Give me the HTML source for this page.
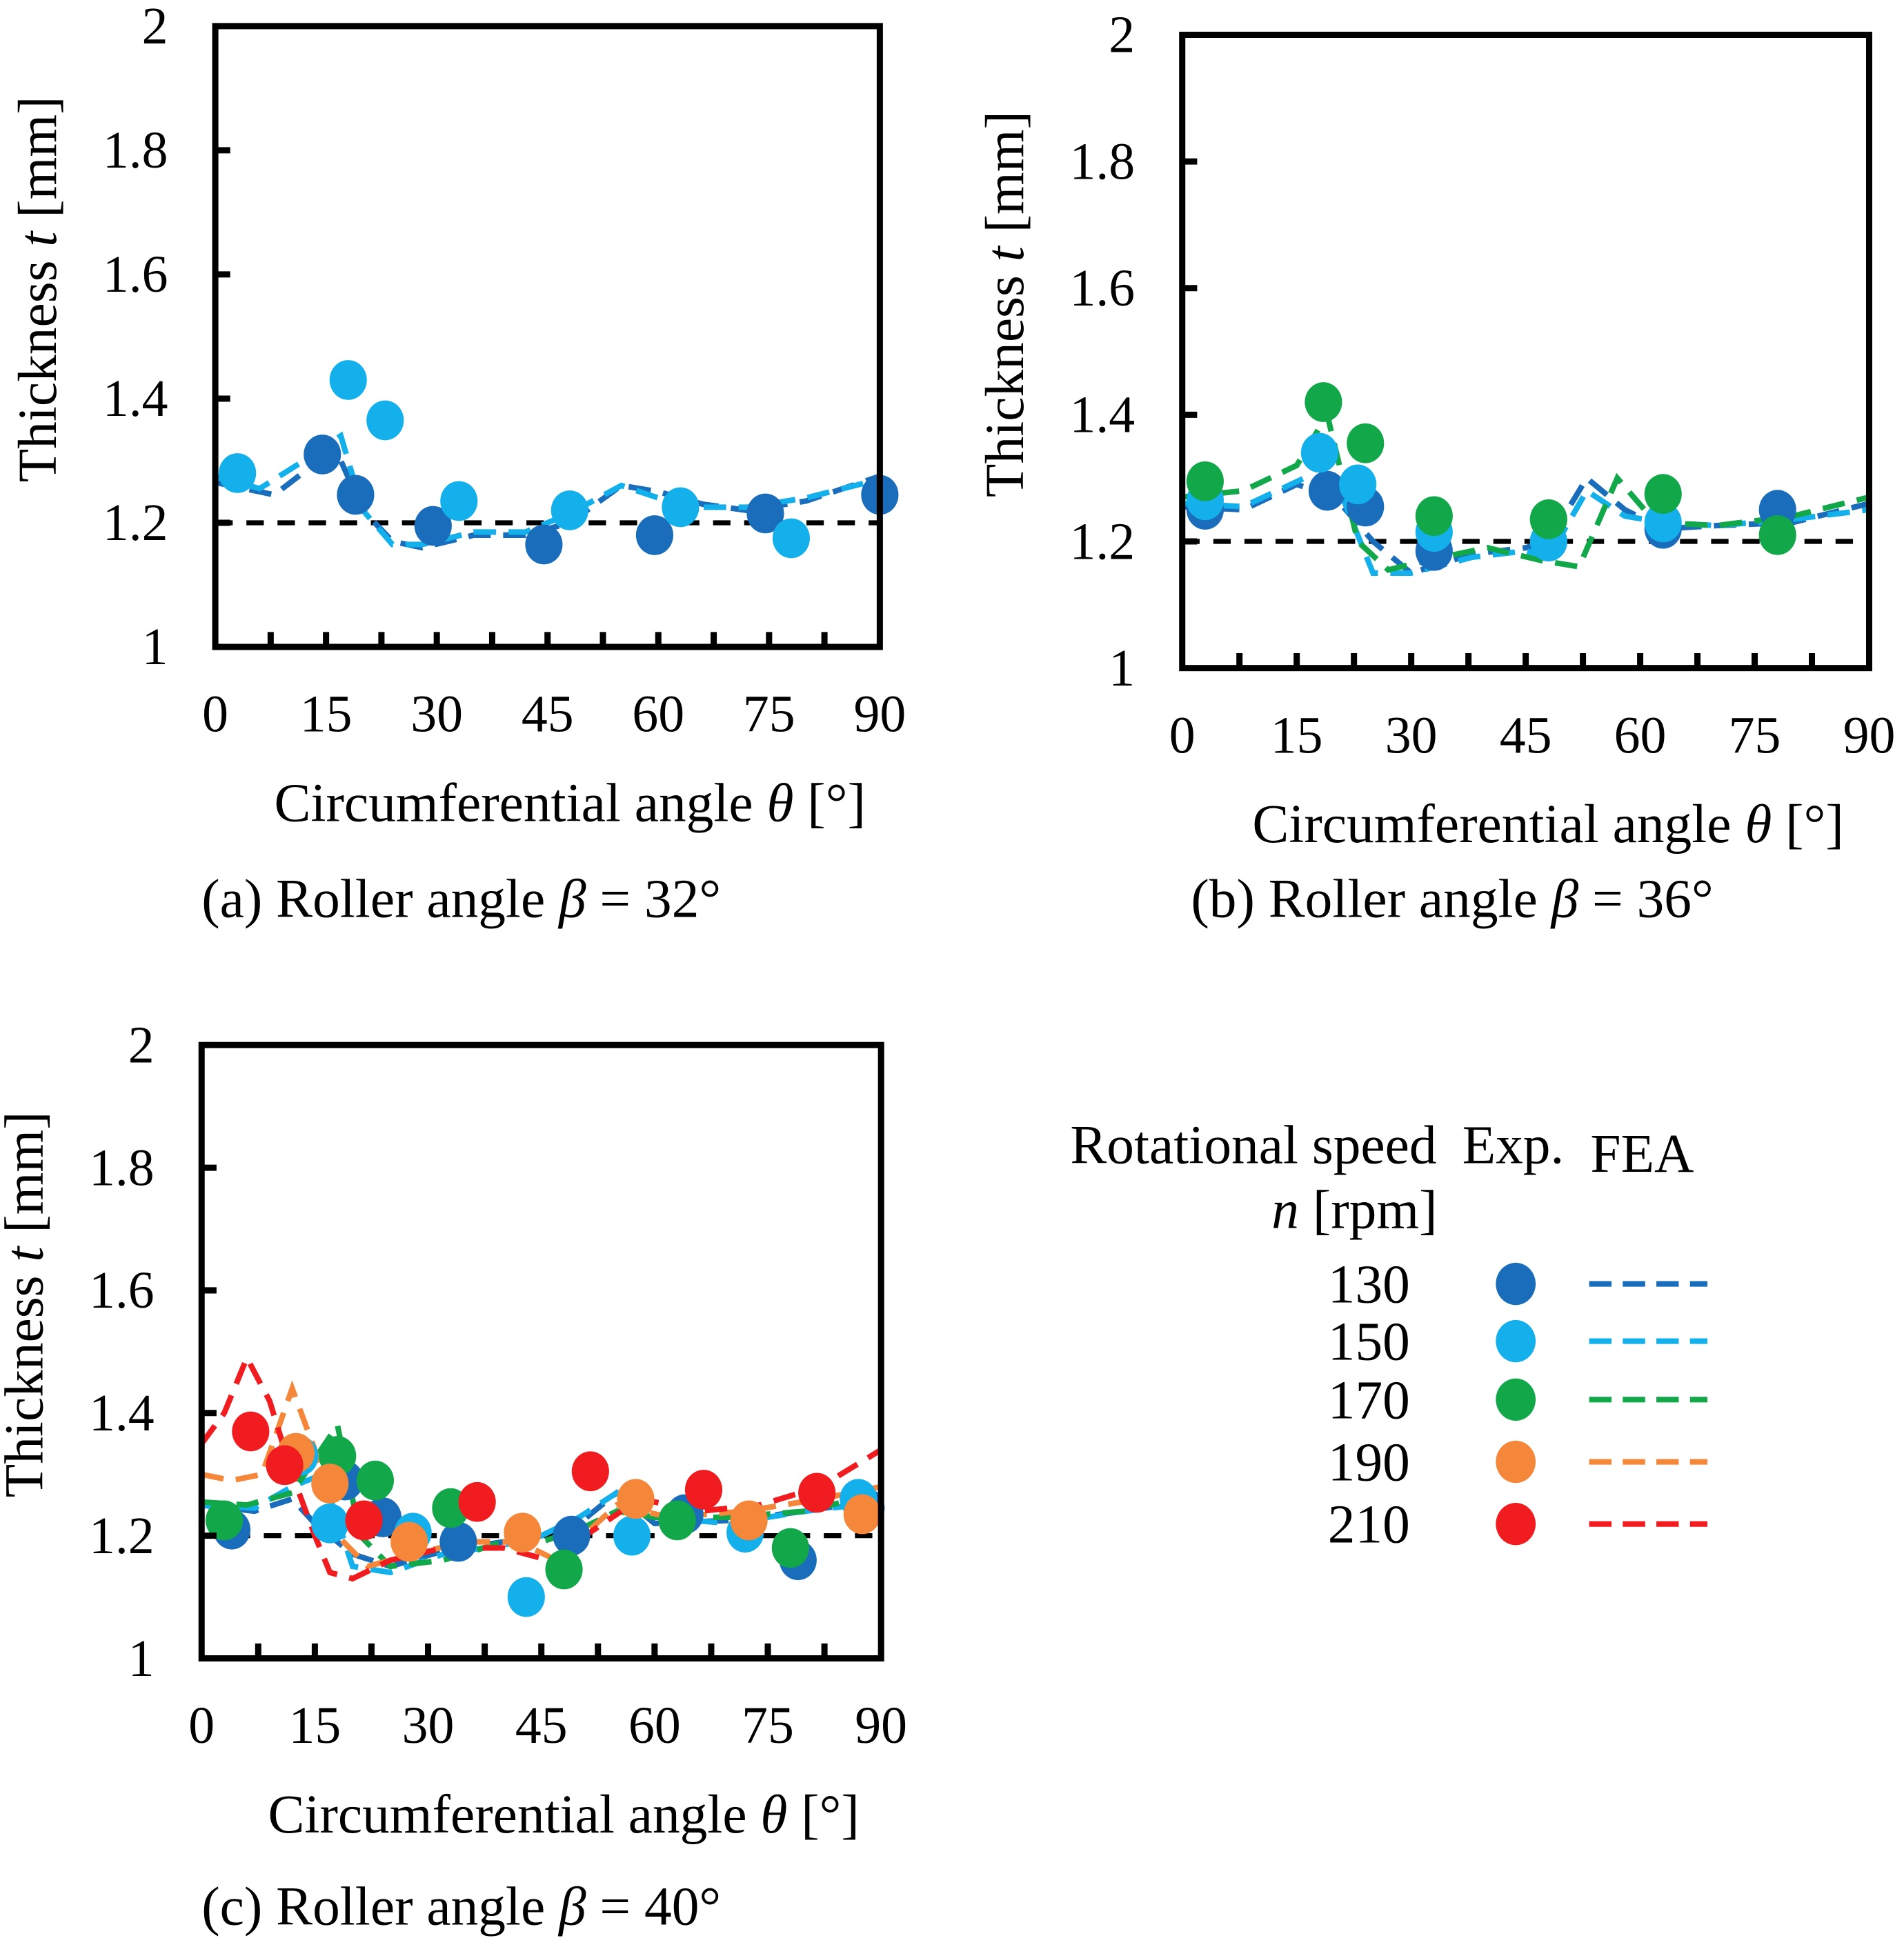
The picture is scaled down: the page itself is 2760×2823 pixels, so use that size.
<!DOCTYPE html>
<html><head><meta charset="utf-8"><style>
html,body{margin:0;padding:0;background:#fff}
svg{display:block;font-family:"Liberation Serif",serif}
</style></head><body>
<svg id="fig" width="2760" height="2823" viewBox="0 0 1530 1565" preserveAspectRatio="none" xmlns="http://www.w3.org/2000/svg">
<g id="legend" font-size="44" fill="#000">
<text x="860" y="935">Rotational speed</text>
<text x="1175" y="935">Exp.</text>
<text x="1278" y="942">FEA</text>
<text x="1155" y="987" text-anchor="end"><tspan font-style="italic">n</tspan> [rpm]</text>
</g>
</svg>
<script>
const NS="http://www.w3.org/2000/svg";
const svg=document.getElementById('fig');
const speeds=[130,150,170,190,210];
const colors=['#1a6dbb','#14b0ec','#12a84a','#f5873a','#f01c1f'];
// Panel (a) beta=32
const aExpX=[[14.5,19,29.5,44.5,59.5,74.5,90],[3,18,23,33,48,63,78]];
const aExpY=[[1.31,1.245,1.195,1.165,1.18,1.215,1.245],[1.28,1.43,1.365,1.235,1.22,1.225,1.175]];
const aFeaX=[[0,8,14,17,20,24,28,35,42,48,55,60,66,72,80,90],[0,6,12,17,20,24,28,35,42,48,55,60,66,72,80,90]];
const aFeaY=[[1.265,1.245,1.3,1.3,1.22,1.17,1.16,1.18,1.18,1.2,1.26,1.25,1.23,1.22,1.235,1.275],[1.275,1.255,1.3,1.34,1.22,1.165,1.165,1.185,1.185,1.215,1.26,1.24,1.225,1.225,1.24,1.27]];
// Panel (b) beta=36
const bExpX=[[3,19,24,33,48,63,78],[3,18,23,33,48,63],[3,18.5,24,33,48,63,78]];
const bExpY=[[1.25,1.28,1.255,1.185,1.2,1.22,1.25],[1.265,1.34,1.29,1.215,1.2,1.23],[1.295,1.42,1.355,1.24,1.235,1.275,1.21]];
const bFeaX=[[0,8,15,20,25,30,38,45,48,53,58,63,70,80,90],[0,8,16,20,25,30,38,45,48,53,58,63,70,80,90],[0,8,15,19,23,27,32,40,47,52,57,62,70,80,90]];
const bFeaY=[[1.255,1.25,1.29,1.27,1.2,1.15,1.18,1.19,1.2,1.3,1.25,1.22,1.225,1.23,1.26],[1.26,1.255,1.3,1.3,1.15,1.15,1.175,1.185,1.175,1.28,1.24,1.23,1.225,1.235,1.25],[1.27,1.28,1.32,1.4,1.2,1.155,1.17,1.19,1.17,1.16,1.3,1.23,1.225,1.24,1.27]];
// Panel (c) beta=40
const cExpX=[[4,19,24,34,49,64,79,88],[13,17,28,43,57,72,87],[3,18,23,33,48,63,78],[12.5,17,27.5,42.5,57.5,72.5,87.5],[6.5,11,21.5,36.5,51.5,66.5,81.5]];
const cExpY=[[1.21,1.29,1.23,1.19,1.2,1.235,1.16,1.245],[1.33,1.22,1.205,1.1,1.2,1.205,1.26],[1.225,1.33,1.29,1.245,1.145,1.225,1.18],[1.335,1.285,1.19,1.205,1.26,1.225,1.235],[1.37,1.315,1.225,1.255,1.305,1.275,1.27]];
const cFeaX=[[0,7,12,15,20,25,32,40,45,50,55,60,70,80,90],[0,7,12,16,20,25,32,40,45,50,55,60,70,80,90],[0,6,12,18,21,25,32,40,45,50,55,60,70,80,90],[0,4,8,12,15,18,22,28,35,42,47,55,62,72,82,90],[0,3,6,9,12,15,17,20,25,32,40,46,52,58,66,74,82,90]];
const cFeaY=[[1.25,1.24,1.26,1.22,1.17,1.15,1.175,1.19,1.2,1.22,1.27,1.22,1.225,1.24,1.26],[1.25,1.245,1.28,1.3,1.15,1.14,1.17,1.185,1.2,1.23,1.27,1.23,1.22,1.24,1.255],[1.255,1.25,1.27,1.38,1.2,1.15,1.16,1.19,1.19,1.21,1.24,1.23,1.23,1.24,1.27],[1.3,1.29,1.3,1.44,1.34,1.2,1.15,1.17,1.19,1.19,1.16,1.25,1.23,1.24,1.26,1.28],[1.35,1.4,1.49,1.42,1.3,1.2,1.14,1.13,1.16,1.18,1.18,1.16,1.21,1.26,1.24,1.25,1.28,1.34]];
const yTicks=['1','1.2','1.4','1.6','1.8','2'];
const xTicks=['0','15','30','45','60','75','90'];

function el(tag,attrs,parent){const e=document.createElementNS(NS,tag);for(const k in attrs)e.setAttribute(k,attrs[k]);(parent||svg).appendChild(e);return e;}

function panel(id,box,expX,expY,feaX,feaY,series,caption,captionX,captionY,beta){
  const g=el('g',{});
  
  
  const sx=v=>box.x0+(v/90)*(box.x1-box.x0);
  const sy=v=>box.y1-(v-1)*(box.y1-box.y0);
  const ref=el('line',{x1:box.x0,x2:box.x1,y1:sy(1.2),y2:sy(1.2),stroke:'#000','stroke-width':4,'stroke-dasharray':'14 11'},g);
  
  
  feaX.forEach((xs,i)=>{
    const pts=xs.map((x,j)=>sx(x)+','+sy(feaY[i][j])).join(' ');
    const pl=el('polyline',{points:pts,fill:'none',stroke:colors[series[i]],'stroke-width':4.5,'stroke-dasharray':'18 10'},g);
    
    
  });
  expX.forEach((xs,i)=>{
    xs.forEach((x,j)=>{
      const c=el('ellipse',{cx:sx(x),cy:sy(expY[i][j]),rx:15,ry:16,fill:colors[series[i]]},g);
      
      
    });
  });
  const fr=el('rect',{x:box.x0,y:box.y0,width:box.x1-box.x0,height:box.y1-box.y0,fill:'none',stroke:'#000','stroke-width':5},g);
  
  
  yTicks.forEach((t,i)=>{
    const v=parseFloat(t);const y=sy(v);
    if(i>0&&i<yTicks.length-1){const tk=el('line',{x1:box.x0,x2:box.x0+12,y1:y,y2:y,stroke:'#000','stroke-width':5},g);
      }
    const tx=el('text',{x:box.x0-38,y:y+14,'text-anchor':'end','font-size':42},g);tx.textContent=t;
    
  });
  for(let k=1;k<12;k++){const x=sx(k*7.5);
    const tk=el('line',{x1:x,x2:x,y1:box.y1,y2:box.y1-12,stroke:'#000','stroke-width':5},g);
    }
  xTicks.forEach(t=>{const x=sx(parseFloat(t));
    const tx=el('text',{x:x,y:box.y1+68,'text-anchor':'middle','font-size':42},g);tx.textContent=t;
    });
  const xt=el('text',{x:(box.x0+box.x1)/2+18,y:box.y1+140,'text-anchor':'middle','font-size':44},g);
  xt.innerHTML='Circumferential angle <tspan font-style="italic">θ</tspan> [°]';
  
  const yt=el('text',{x:0,y:0,'text-anchor':'middle','font-size':44,transform:`translate(${box.x0-128},${(box.y0+box.y1)/2-38}) rotate(-90)`},g);
  yt.innerHTML='Thickness <tspan font-style="italic">t</tspan> [mm]';
  
  const cp=el('text',{x:captionX,y:captionY,'font-size':44},g);
  cp.innerHTML=caption+' Roller angle <tspan font-style="italic">β</tspan> = '+beta;
  
}
panel('a',{x0:173,x1:707,y0:21,y1:520},aExpX,aExpY,aFeaX,aFeaY,[0,1],'(a)',162,737,'32°');
panel('b',{x0:950,x1:1502,y0:28,y1:537},bExpX,bExpY,bFeaX,bFeaY,[0,1,2],'(b)',957,737,'36°');
panel('c',{x0:162,x1:708,y0:840,y1:1333},cExpX,cExpY,cFeaX,cFeaY,[0,1,2,3,4],'(c)',162,1547,'40°');

const lg=document.getElementById('legend');
const rowsY=[1032,1078,1125,1175,1225];
speeds.forEach((s,i)=>{
  const t=el('text',{x:1133,y:rowsY[i]+15,'text-anchor':'end','font-size':44},lg);t.textContent=s;
  
  const c=el('ellipse',{cx:1218,cy:rowsY[i],rx:16,ry:17,fill:colors[i]},lg);
  
  const l=el('line',{x1:1277,x2:1372,y1:rowsY[i],y2:rowsY[i],stroke:colors[i],'stroke-width':4.5,'stroke-dasharray':'18 9'},lg);
  
});
</script>
</body></html>
